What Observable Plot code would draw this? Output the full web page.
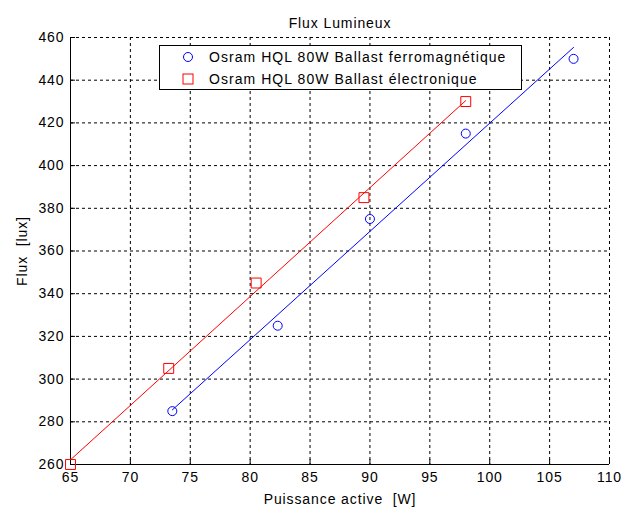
<!DOCTYPE html>
<html>
<head>
<meta charset="utf-8">
<script src="https://cdn.jsdelivr.net/npm/d3@7"></script>
<script src="https://cdn.jsdelivr.net/npm/@observablehq/plot@0.6"></script>
<style>
  html, body { margin: 0; padding: 0; background: #fff; }
  #wrap { position: relative; width: 622px; height: 511px; }
  .legend { position: absolute; left: 159px; top: 45px; width: 361px; height: 43px;
    border: 1px solid #000; background: #fff; font-family: "Liberation Sans", Arial, sans-serif;
    font-size: 14px; letter-spacing: 1.05px; color: #000; }
  .legend .row { position: absolute; left: 0; height: 20px; line-height: 20px; white-space: pre; }
  .legend svg { position: absolute; left: 21px; top: 3px; }
  .legend span { position: absolute; left: 49px; top: 0; }
</style>
</head>
<body>
<div id="wrap"></div>
<script>
const chartTitle = "Flux Lumineux";
const xLabel = "Puissance active\u00a0 [W]";
const yLabel = "Flux\u00a0 [lux]";
const seriesNames = ["Osram HQL 80W Ballast ferromagnétique", "Osram HQL 80W Ballast électronique"];
const seriesColors = ["#0000ff", "#ff0000"];

const powerFerro = [73.5, 82.3, 90, 98, 107];
const fluxFerro  = [285, 325, 375, 415, 450];
const powerElec  = [65, 73.2, 80.5, 89.5, 98];
const fluxElec   = [260, 305, 345, 385, 430];

const xTicks = [65, 70, 75, 80, 85, 90, 95, 100, 105, 110];
const yTicks = [260, 280, 300, 320, 340, 360, 380, 400, 420, 440, 460];

const ferro = powerFerro.map((p, i) => ({x: p, y: fluxFerro[i]}));
const elec  = powerElec.map((p, i) => ({x: p, y: fluxElec[i]}));

const chart = Plot.plot({
  width: 622,
  height: 511,
  marginLeft: 70,
  marginRight: 13,
  marginTop: 37,
  marginBottom: 47,
  style: {fontFamily: "'Liberation Sans', Arial, sans-serif", fontSize: "14px", letterSpacing: "0.9px", color: "#000", background: "#fff"},
  x: {domain: [65, 110]},
  y: {domain: [260, 460]},
  marks: [
    Plot.gridX(xTicks, {stroke: "#000", strokeOpacity: 1, strokeDasharray: "3,3", strokeWidth: 1}),
    Plot.gridY(yTicks, {stroke: "#000", strokeOpacity: 1, strokeDasharray: "3,3", strokeWidth: 1}),
    Plot.ruleX([65], {stroke: "#000", strokeWidth: 1}),
    Plot.ruleY([260], {stroke: "#000", strokeWidth: 1}),
    Plot.axisX(xTicks, {tickSize: -5, tickPadding: 13, label: xLabel, labelAnchor: "center", labelArrow: "none", labelOffset: 39, tickFormat: d => String(d)}),
    Plot.axisY(yTicks, {tickSize: -5, tickPadding: 11, label: yLabel, labelAnchor: "center", labelArrow: "none", labelOffset: 53, tickFormat: d => String(d)}),
    Plot.linearRegressionY(ferro, {x: "x", y: "y", stroke: seriesColors[0], strokeWidth: 1, ci: 0}),
    Plot.linearRegressionY(elec, {x: "x", y: "y", stroke: seriesColors[1], strokeWidth: 1, ci: 0}),
    Plot.dot(ferro, {x: "x", y: "y", symbol: "circle", r: 4.5, stroke: seriesColors[0], strokeWidth: 1, fill: "none"}),
    Plot.dot(elec, {x: "x", y: "y", symbol: "square", r: 5.6, stroke: seriesColors[1], strokeWidth: 1, fill: "none"}),
    Plot.text([chartTitle], {frameAnchor: "top", dy: -19, fontSize: 14, fill: "#000"})
  ]
});

const wrap = document.getElementById("wrap");
wrap.appendChild(chart);

const legend = document.createElement("div");
legend.className = "legend";
const symbols = [
  c => `<circle cx="7" cy="7" r="4.5" fill="none" stroke="${c}" stroke-width="1"/>`,
  c => `<rect x="2" y="2" width="10" height="10" fill="none" stroke="${c}" stroke-width="1"/>`
];
seriesNames.forEach((name, i) => {
  const row = document.createElement("div");
  row.className = "row";
  row.style.top = (1 + i * 22) + "px";
  row.innerHTML = `<svg width="14" height="14">${symbols[i](seriesColors[i])}</svg><span>${name}</span>`;
  legend.appendChild(row);
});
wrap.appendChild(legend);
</script>
</body>
</html>
